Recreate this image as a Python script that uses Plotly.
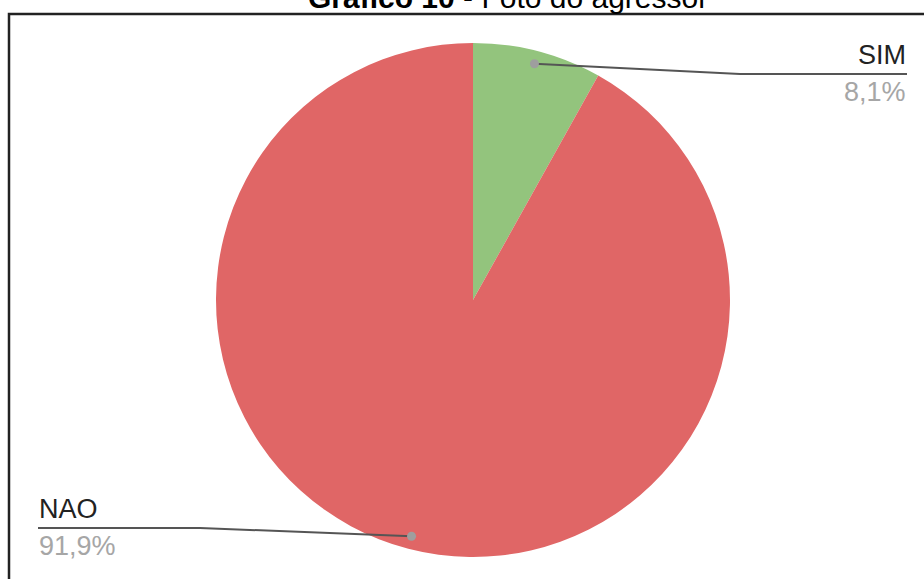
import math
import plotly.graph_objects as go

labels = ["SIM", "NAO"]
values = [8.1, 91.9]
pct_text = ["8,1%", "91,9%"]
colors = ["#93C47D", "#E06666"]
title_bold = "Gráfico 10"
title_rest = " - Foto do agressor"

W, H = 924, 579
cx, cy, R = 473, 300, 257

def px(x):
    return x / W

def py(y):
    return 1 - y / H

fig = go.Figure(go.Pie(
    labels=labels, values=values, sort=False, direction="clockwise", rotation=0,
    marker=dict(colors=colors, line=dict(width=0)),
    textinfo="none", hoverinfo="label+percent", showlegend=False,
    domain=dict(x=[px(cx - R), px(cx + R)], y=[py(cy + R), py(cy - R)]),
))

total = sum(values)
cum = 0
shapes = []
annotations = []
label_cfg = {
    "SIM": dict(elbow_x=740, line_y=74, end_x=907, side="right"),
    "NAO": dict(elbow_x=200, line_y=528, end_x=38, side="left"),
}
for lab, v, pt in zip(labels, values, pct_text):
    mid = (cum + v / 2) / total * 2 * math.pi
    cum += v
    dx = cx + 0.95 * R * math.sin(mid)
    dy = cy - 0.95 * R * math.cos(mid)
    cfg = label_cfg[lab]
    path = f"M {px(dx)},{py(dy)} L {px(cfg['elbow_x'])},{py(cfg['line_y'])} L {px(cfg['end_x'])},{py(cfg['line_y'])}"
    shapes.append(dict(type="path", path=path, xref="paper", yref="paper",
                       line=dict(color="#555555", width=2)))
    r = 4.5
    shapes.append(dict(type="circle", xref="paper", yref="paper",
                       x0=px(dx - r), x1=px(dx + r), y0=py(dy + r), y1=py(dy - r),
                       fillcolor="#9E9E9E", line=dict(width=0)))
    anchor = cfg["side"]
    annotations.append(dict(text=lab, x=px(cfg["end_x"]), y=py(cfg["line_y"] - 3),
                            xref="paper", yref="paper", xanchor=anchor, yanchor="bottom",
                            showarrow=False, borderpad=0,
                            font=dict(family="Liberation Sans, Arial", size=27, color="#222222")))
    annotations.append(dict(text=pt, x=px(cfg["end_x"]), y=py(cfg["line_y"] + 2),
                            xref="paper", yref="paper", xanchor=anchor, yanchor="top",
                            showarrow=False, borderpad=0,
                            font=dict(family="Liberation Sans, Arial", size=27, color="#A6A6A6")))

# frame lines (top and left)
shapes.append(dict(type="path", path=f"M {px(9)},{py(H + 20)} L {px(9)},{py(14)} L {px(W + 20)},{py(14)}",
                   xref="paper", yref="paper", line=dict(color="#222222", width=2.5)))

annotations.append(dict(text=f"<b>{title_bold}</b>{title_rest}", x=px(508), y=py(15),
                        xref="paper", yref="paper", xanchor="center", yanchor="bottom",
                        showarrow=False, borderpad=0,
                        font=dict(family="Liberation Sans, Arial", size=30, color="#000000")))

fig.update_layout(
    width=W, height=H, margin=dict(l=0, r=0, t=0, b=0),
    paper_bgcolor="white", plot_bgcolor="white",
    shapes=shapes, annotations=annotations,
)

fig.write_html("out.html", config={"displayModeBar": False},
               post_script="document.body.style.margin='0';document.body.style.overflow='hidden';")
